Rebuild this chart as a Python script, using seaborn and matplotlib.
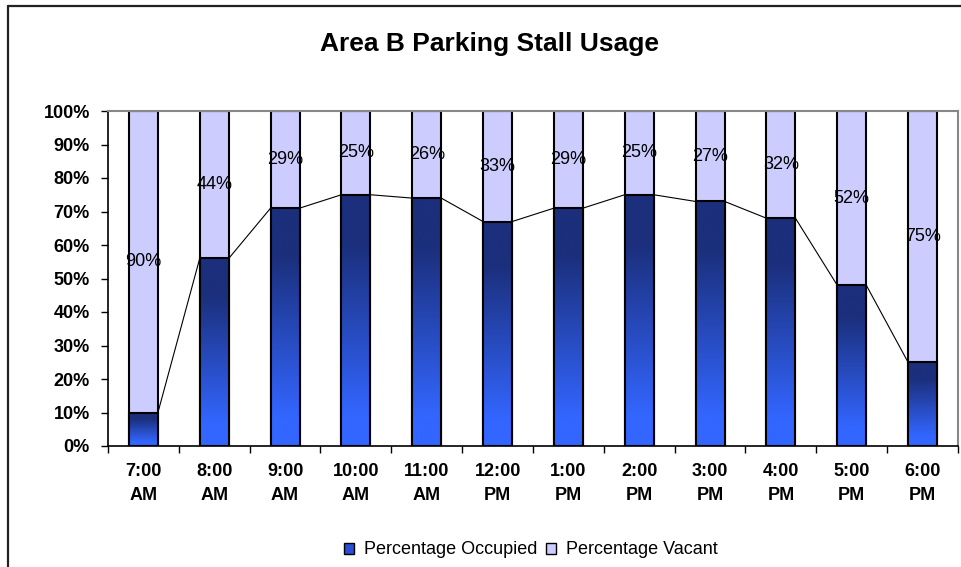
import numpy as np
import pandas as pd
import matplotlib
matplotlib.use("Agg")
import matplotlib.pyplot as plt
import seaborn as sns
from matplotlib.patches import Patch
from matplotlib.lines import Line2D
from matplotlib.colors import LinearSegmentedColormap
from matplotlib.ticker import FuncFormatter, MultipleLocator, FixedLocator

times = ["7:00\nAM", "8:00\nAM", "9:00\nAM", "10:00\nAM", "11:00\nAM", "12:00\nPM",
         "1:00\nPM", "2:00\nPM", "3:00\nPM", "4:00\nPM", "5:00\nPM", "6:00\nPM"]
occupied = [10, 56, 71, 75, 74, 67, 71, 75, 73, 68, 48, 25]
vacant = [90, 44, 29, 25, 26, 33, 29, 25, 27, 32, 52, 75]
vacant_labels = ["90%", "44%", "29%", "25%", "26%", "33%", "29%", "25%", "27%", "32%", "52%", "75%"]

sns.set_style("white")
plt.rcParams["font.family"] = ["Liberation Sans", "DejaVu Sans"]
plt.rcParams["text.color"] = "black"
plt.rcParams["xtick.color"] = "black"
plt.rcParams["ytick.color"] = "black"
plt.rcParams["axes.labelcolor"] = "black"

df = pd.DataFrame({"time": times, "occupied": occupied, "vacant": vacant})
df["total"] = df["occupied"] + df["vacant"]

fig = plt.figure(figsize=(9.62, 5.67), dpi=100)
ax = fig.add_axes([108 / 962, 1 - 446 / 567, (958 - 108) / 962, (446 - 111) / 567])

lavender = "#ccccff"
navy = "#1b2f7c"
bright = "#3366ff"
W = 0.41

sns.barplot(data=df, x="time", y="total", color=lavender, width=W, edgecolor="black",
            linewidth=1.5, saturation=1, ax=ax, zorder=2)
sns.barplot(data=df, x="time", y="occupied", color=bright, width=W, edgecolor="black",
            linewidth=1.5, saturation=1, ax=ax, zorder=3)

# gradient fill for occupied bars
cmap = LinearSegmentedColormap.from_list("occ", [(0, bright), (0.12, bright), (0.8, navy), (1, navy)])
grad = np.linspace(0, 1, 256).reshape(-1, 1)
occ_patches = ax.containers[1]
for p in occ_patches:
    x0, y0 = p.get_x(), p.get_y()
    w, h = p.get_width(), p.get_height()
    im = ax.imshow(grad, cmap=cmap, origin="lower", extent=[x0, x0 + w, y0, y0 + h],
                   aspect="auto", zorder=3, interpolation="bilinear")
    im.set_clip_path(p)
    p.set_facecolor("none")
    p.set_zorder(4)

# series lines between tops of occupied bars
for i in range(len(occupied) - 1):
    ax.plot([i + W / 2, i + 1 - W / 2], [occupied[i], occupied[i + 1]], color="black",
            lw=0.8, zorder=5)

# labels in vacant segments
for i, (o, v, lab) in enumerate(zip(occupied, vacant, vacant_labels)):
    ax.text(i, o + v / 2, lab, ha="center", va="center", fontsize=13, color="black", zorder=6)

ax.set_xlim(-0.5, len(times) - 0.5)
ax.set_ylim(0, 100)
ax.yaxis.set_major_locator(MultipleLocator(10))
ax.yaxis.set_major_formatter(FuncFormatter(lambda v, p: f"{int(round(v))}%"))
ax.set_xlabel("")
ax.set_ylabel("")

ax.xaxis.set_minor_locator(FixedLocator(np.arange(-0.5, len(times), 1.0)))
ax.tick_params(axis="x", which="major", length=0, pad=12, labelsize=13)
ax.tick_params(axis="x", which="minor", length=5, width=1, direction="out", color="black", bottom=True)
ax.tick_params(axis="y", which="major", length=5, width=1, direction="out", color="black",
               left=True, pad=8, labelsize=13)
for lab in ax.get_xticklabels():
    lab.set_fontweight("bold")
    lab.set_linespacing(1.6)
    lab.set_color("black")
for lab in ax.get_yticklabels():
    lab.set_fontweight("bold")
    lab.set_color("black")

for s in ["left", "bottom"]:
    ax.spines[s].set_color("black")
    ax.spines[s].set_linewidth(1.2)
for s in ["top", "right"]:
    ax.spines[s].set_visible(True)
    ax.spines[s].set_color("#888888")
    ax.spines[s].set_linewidth(1.5)

fig.suptitle("Area B Parking Stall Usage", x=490 / 962, y=1 - 44 / 567, va="center",
             fontsize=19, fontweight="bold", color="black")

handles = [Patch(facecolor="#2a4fd6", edgecolor="black", linewidth=1.0),
           Patch(facecolor=lavender, edgecolor="black", linewidth=1.0)]
fig.legend(handles, ["Percentage Occupied", "Percentage Vacant"], loc="center",
           bbox_to_anchor=(531 / 962, 1 - 550 / 567), ncol=2, frameon=False, fontsize=13,
           handlelength=0.55, handleheight=0.55, handletextpad=0.55, columnspacing=0.5,
           labelcolor="black")

# outer chart frame (left and top edges)
fig.add_artist(Line2D([8 / 962, 8 / 962], [0, 1 - 6 / 567], color="#222222", lw=1.6,
                      transform=fig.transFigure))
fig.add_artist(Line2D([8 / 962, 1], [1 - 6 / 567, 1 - 6 / 567], color="#222222", lw=1.6,
                      transform=fig.transFigure))

fig.savefig("out.png", dpi=100, facecolor="white")
